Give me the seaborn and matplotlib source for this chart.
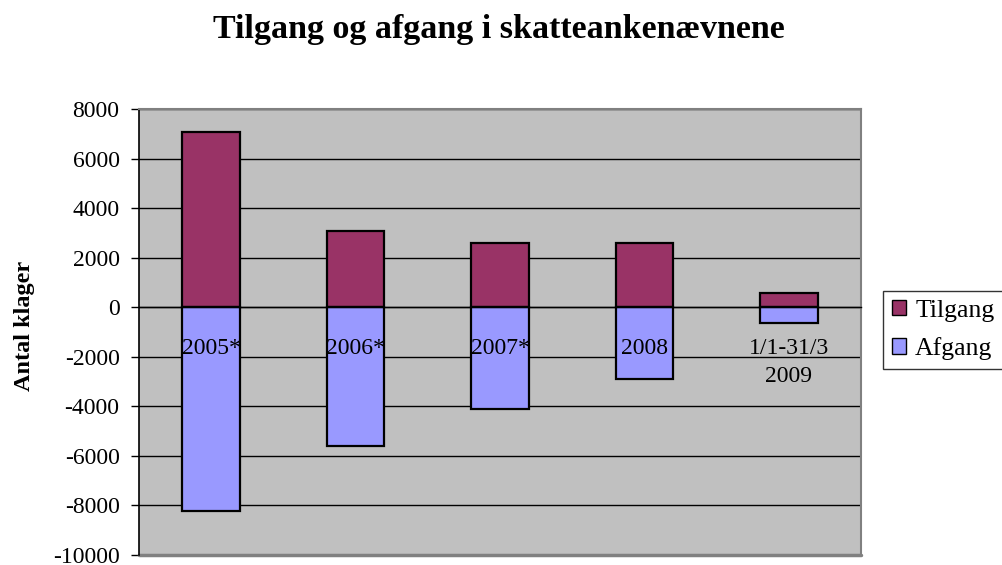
import matplotlib
matplotlib.use('Agg')
import matplotlib.pyplot as plt
from matplotlib.patches import Patch
import seaborn as sns
import pandas as pd
import numpy as np

# %% Data
categories = ['2005*', '2006*', '2007*', '2008', '1/1-31/3\n2009']
tilgang = [7080, 3080, 2580, 2580, 560]
afgang = [-8210, -5620, -4100, -2900, -640]

df = pd.DataFrame({'Kategori': categories * 2,
                   'Antal': tilgang + afgang,
                   'Serie': ['Tilgang'] * 5 + ['Afgang'] * 5})

# %% Plot
sns.set_style('white')
plt.rcParams['font.family'] = ['Liberation Serif', 'DejaVu Serif']
plt.rcParams['axes.unicode_minus'] = False
for key in ['text.color', 'axes.labelcolor', 'xtick.color', 'ytick.color']:
    plt.rcParams[key] = 'black'

fig = plt.figure(figsize=(10.03, 5.65), dpi=100)
ax = fig.add_axes([139 / 1003, 1 - 555 / 565, 722 / 1003, 446 / 565])
ax.set_facecolor('#C0C0C0')

sns.barplot(data=df, x='Kategori', y='Antal', hue='Serie',
            palette={'Tilgang': '#993366', 'Afgang': '#9999FF'},
            dodge=False, width=0.4, edgecolor='black', linewidth=1.6,
            saturation=1, legend=False, ax=ax)

ax.set_ylim(-10000, 8000)
ax.set_xlim(-0.5, 4.5)
ax.set_yticks(np.arange(-10000, 8001, 2000))
ax.grid(axis='y', color='black', linewidth=1)
ax.set_axisbelow(True)
ax.xaxis.set_zorder(3)

# category axis at zero
ax.spines['bottom'].set_position(('data', 0))
ax.spines['bottom'].set_color('black')
ax.spines['bottom'].set_linewidth(1)
ax.spines['left'].set_color('black')
ax.spines['left'].set_linewidth(1.2)
for s in ['top', 'right']:
    ax.spines[s].set_color('#808080')
    ax.spines[s].set_linewidth(1.5)
ax.axhline(-10000, color='#808080', linewidth=2.5, clip_on=False)

ax.set_xticks(range(len(categories)))
ax.set_xticklabels(categories, fontsize=17, linespacing=1.45)
ax.set_xticks(np.arange(-0.5, 4.6, 1), minor=True)
ax.tick_params(axis='x', which='major', length=0, pad=22)
ax.tick_params(axis='x', which='minor', length=5.5, width=1, direction='out',
               color='#404040')
ax.tick_params(axis='y', which='major', length=6, width=1, direction='out',
               left=True, labelsize=17, pad=8)

ax.set_xlabel('')
ax.set_ylabel('Antal klager', fontsize=17.5, fontweight='bold')
ax.yaxis.set_label_coords(-0.144, 0.513)

fig.suptitle('Tilgang og afgang i skatteankenævnene', fontsize=24.5,
             fontweight='bold', x=0.497, y=0.975)

# legend
handles = [Patch(facecolor='#993366', edgecolor='black', label='Tilgang'),
           Patch(facecolor='#9999FF', edgecolor='black', label='Afgang')]
leg = fig.legend(handles=handles, loc='center left',
                 bbox_to_anchor=(883 / 1003, 1 - 330 / 565),
                 fontsize=18.5, frameon=True, fancybox=False,
                 handlelength=0.55, handleheight=0.55, handletextpad=0.35,
                 borderpad=0.35, labelspacing=0.6, borderaxespad=0)
leg.get_frame().set_edgecolor('black')
leg.get_frame().set_linewidth(1)

plt.savefig('out.png', dpi=100)
